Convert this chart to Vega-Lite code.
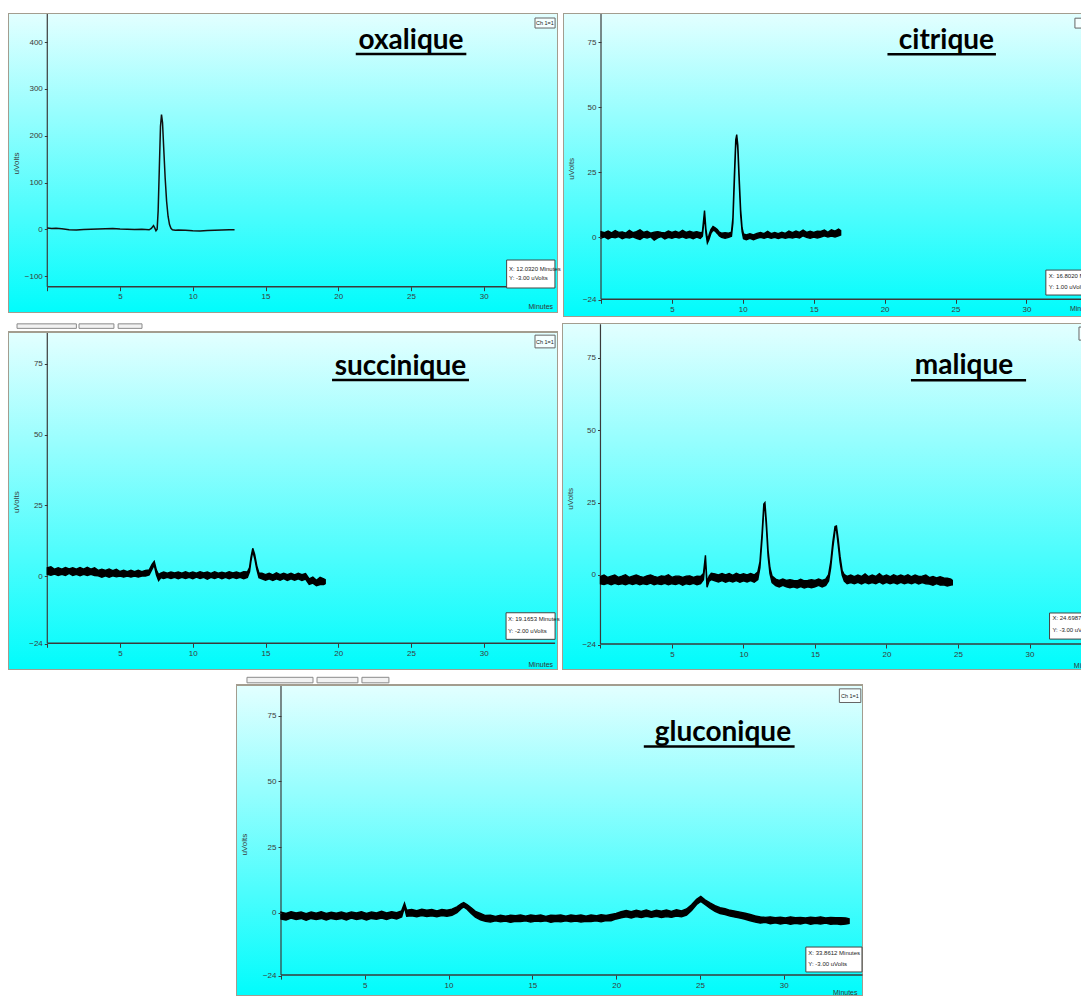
{
"$schema": "https://vega.github.io/schema/vega-lite/v6.json",
"background": "white",
"padding": {"left": 8, "top": 13, "right": 0, "bottom": 0},
"config": {
 "view": {"stroke": null},
 "axis": {"zindex": 1, "grid": false, "domain": false, "labelFont": "Liberation Sans Narrow, Arial Narrow, Liberation Sans, sans-serif", "labelFontSize": 8, "labelColor": "#3a3a3a", "tickColor": "#3a3a3a", "titleFont": "Liberation Sans Narrow, Liberation Sans, sans-serif", "titleFontSize": 8, "titleFontWeight": "normal", "titleColor": "#3a3a3a", "labelPadding": 2},
 "axisX": {"tickSize": 4},
 "axisY": {"tickSize": 3, "titleBaseline": "middle", "titleAngle": -90},
 "text": {"font": "Liberation Sans Narrow, Liberation Sans, sans-serif", "color": "#222"}
},
"datasets": {
 "oxalique": [
  {"t":0,"v":3},{"t":0.3,"v":2},{"t":0.6,"v":2.5},{"t":1,"v":1},{"t":1.5,"v":-1},{"t":2,"v":-1.5},{"t":2.5,"v":-0.5},{"t":3,"v":0},{"t":3.5,"v":0.5},{"t":4,"v":1},{"t":4.5,"v":1.5},{"t":5,"v":0.5},{"t":5.5,"v":0},{"t":6,"v":-0.5},{"t":6.5,"v":0},{"t":7,"v":-1},{"t":7.15,"v":2},{"t":7.3,"v":8},{"t":7.4,"v":2},{"t":7.47,"v":-3},{"t":7.55,"v":0},{"t":7.62,"v":40},{"t":7.7,"v":130},{"t":7.78,"v":220},{"t":7.85,"v":245},{"t":7.92,"v":228},{"t":8,"v":175},{"t":8.1,"v":110},{"t":8.2,"v":60},{"t":8.3,"v":28},{"t":8.4,"v":10},{"t":8.5,"v":2},{"t":8.6,"v":-1},{"t":8.8,"v":-2},{"t":9,"v":-1.5},{"t":9.5,"v":-2},{"t":10,"v":-3},{"t":10.5,"v":-3.5},{"t":11,"v":-2.5},{"t":11.5,"v":-2},{"t":12,"v":-1.5},{"t":12.5,"v":-1},{"t":12.87,"v":-1}
 ],
 "citrique": [
  {"t":0,"lo":-0.3,"hi":2.2},{"t":0.25,"lo":0.2,"hi":1.8},{"t":0.5,"lo":-0.6,"hi":2.4},{"t":0.75,"lo":0.1,"hi":1.7},{"t":1,"lo":-0.2,"hi":2.6},{"t":1.25,"lo":0.3,"hi":1.9},{"t":1.5,"lo":-0.5,"hi":2.1},{"t":1.75,"lo":0,"hi":1.6},{"t":2,"lo":-0.3,"hi":2.7},{"t":2.25,"lo":0.2,"hi":1.8},{"t":2.5,"lo":-0.4,"hi":2.2},{"t":2.75,"lo":-0.8,"hi":2.9},{"t":3,"lo":0.1,"hi":1.9},{"t":3.25,"lo":-0.3,"hi":2.3},{"t":3.5,"lo":0.2,"hi":1.6},{"t":3.75,"lo":-1.1,"hi":2},{"t":4,"lo":-0.2,"hi":2.2},{"t":4.25,"lo":0.3,"hi":1.9},{"t":4.5,"lo":-0.6,"hi":1.7},{"t":4.75,"lo":0,"hi":2.4},{"t":5,"lo":-0.4,"hi":1.9},{"t":5.25,"lo":0.1,"hi":2.3},{"t":5.5,"lo":-0.3,"hi":1.8},{"t":5.75,"lo":0.2,"hi":2.7},{"t":6,"lo":-0.4,"hi":1.9},{"t":6.25,"lo":0,"hi":2.3},{"t":6.5,"lo":-0.5,"hi":1.9},{"t":6.75,"lo":0.1,"hi":2.2},{"t":7,"lo":-0.4,"hi":1.8},{"t":7.15,"lo":0.4,"hi":2},{"t":7.3,"lo":8.5,"hi":10.3},{"t":7.4,"lo":1.5,"hi":3.2},{"t":7.5,"lo":-2.2,"hi":-0.6},{"t":7.6,"lo":-1,"hi":0.6},{"t":7.75,"lo":1.5,"hi":3},{"t":7.9,"lo":2.8,"hi":4.2},{"t":8.05,"lo":2.4,"hi":3.7},{"t":8.2,"lo":1.5,"hi":3},{"t":8.35,"lo":0.5,"hi":2},{"t":8.5,"lo":0,"hi":1.6},{"t":8.75,"lo":-0.4,"hi":1.8},{"t":9,"lo":0,"hi":1.6},{"t":9.2,"lo":0.4,"hi":2},{"t":9.3,"lo":5.5,"hi":7.5},{"t":9.4,"lo":20.5,"hi":23.5},{"t":9.5,"lo":35.5,"hi":37.5},{"t":9.57,"lo":38.5,"hi":39.5},{"t":9.65,"lo":33.5,"hi":35.5},{"t":9.75,"lo":20.5,"hi":22.5},{"t":9.85,"lo":8.5,"hi":10.5},{"t":9.95,"lo":2.2,"hi":3.6},{"t":10.05,"lo":-0.5,"hi":1.3},{"t":10.25,"lo":-0.9,"hi":0.9},{"t":10.5,"lo":-0.4,"hi":1.4},{"t":10.75,"lo":-0.9,"hi":0.9},{"t":11,"lo":-0.4,"hi":1.5},{"t":11.25,"lo":0,"hi":1.9},{"t":11.5,"lo":-0.4,"hi":1.4},{"t":11.75,"lo":0.1,"hi":2.3},{"t":12,"lo":-0.4,"hi":1.4},{"t":12.25,"lo":0,"hi":1.9},{"t":12.5,"lo":-0.5,"hi":1.4},{"t":12.75,"lo":0,"hi":2},{"t":13,"lo":-0.4,"hi":1.5},{"t":13.25,"lo":0,"hi":2.4},{"t":13.5,"lo":-0.3,"hi":1.8},{"t":13.75,"lo":0.1,"hi":2.4},{"t":14,"lo":-0.3,"hi":1.9},{"t":14.25,"lo":0.6,"hi":2.8},{"t":14.5,"lo":0,"hi":1.9},{"t":14.75,"lo":-0.4,"hi":2.3},{"t":15,"lo":0.1,"hi":1.9},{"t":15.25,"lo":-0.3,"hi":2.4},{"t":15.5,"lo":0.1,"hi":2.3},{"t":15.75,"lo":0.6,"hi":2.8},{"t":16,"lo":0.1,"hi":1.9},{"t":16.25,"lo":0.5,"hi":2.9},{"t":16.5,"lo":0.1,"hi":2.4},{"t":16.75,"lo":0.6,"hi":3.2},{"t":16.9,"lo":0.9,"hi":2.6}
 ],
 "succinique": [
  {"t":0,"lo":0.6,"hi":2.9},{"t":0.25,"lo":0.3,"hi":3.3},{"t":0.5,"lo":0.7,"hi":2.4},{"t":0.75,"lo":0.2,"hi":2.9},{"t":1,"lo":0.6,"hi":2.4},{"t":1.25,"lo":0.2,"hi":3},{"t":1.5,"lo":0.9,"hi":2.5},{"t":1.75,"lo":0.2,"hi":2.9},{"t":2,"lo":0.6,"hi":2.4},{"t":2.25,"lo":0.1,"hi":3},{"t":2.5,"lo":0.6,"hi":2.4},{"t":2.75,"lo":0.2,"hi":3.1},{"t":3,"lo":0.6,"hi":2.4},{"t":3.25,"lo":0.2,"hi":2.9},{"t":3.5,"lo":0.1,"hi":2},{"t":3.75,"lo":-0.4,"hi":2.4},{"t":4,"lo":0.1,"hi":2},{"t":4.25,"lo":-0.4,"hi":2.5},{"t":4.5,"lo":0.1,"hi":1.9},{"t":4.75,"lo":-0.3,"hi":2.4},{"t":5,"lo":0,"hi":1.6},{"t":5.25,"lo":-0.4,"hi":2},{"t":5.5,"lo":0,"hi":1.5},{"t":5.75,"lo":-0.4,"hi":2},{"t":6,"lo":0,"hi":1.5},{"t":6.25,"lo":-0.4,"hi":2},{"t":6.5,"lo":0,"hi":1.5},{"t":6.75,"lo":0,"hi":2},{"t":7,"lo":0.4,"hi":2.1},{"t":7.2,"lo":2.4,"hi":4.1},{"t":7.35,"lo":3.9,"hi":5.2},{"t":7.5,"lo":0.4,"hi":2.1},{"t":7.65,"lo":-1.6,"hi":0.5},{"t":7.8,"lo":-0.6,"hi":1},{"t":8,"lo":-0.9,"hi":1.4},{"t":8.25,"lo":-0.5,"hi":1},{"t":8.5,"lo":-0.9,"hi":1.4},{"t":8.75,"lo":-0.5,"hi":1.1},{"t":9,"lo":-1,"hi":1.4},{"t":9.25,"lo":-0.5,"hi":1},{"t":9.5,"lo":-0.9,"hi":1.5},{"t":9.75,"lo":-0.5,"hi":1},{"t":10,"lo":-1,"hi":1.4},{"t":10.25,"lo":-0.4,"hi":1},{"t":10.5,"lo":-0.9,"hi":1.5},{"t":10.75,"lo":-0.5,"hi":1.1},{"t":11,"lo":-1.1,"hi":1.4},{"t":11.25,"lo":-0.5,"hi":0.9},{"t":11.5,"lo":-0.9,"hi":1.5},{"t":11.75,"lo":-0.4,"hi":1},{"t":12,"lo":-1,"hi":1.3},{"t":12.25,"lo":-0.5,"hi":1},{"t":12.5,"lo":-1,"hi":1.5},{"t":12.75,"lo":-0.5,"hi":1.1},{"t":13,"lo":-0.9,"hi":1.4},{"t":13.25,"lo":-0.5,"hi":1},{"t":13.5,"lo":-1,"hi":1.5},{"t":13.75,"lo":-0.5,"hi":1.4},{"t":13.9,"lo":1.5,"hi":3},{"t":14,"lo":5.3,"hi":6.7},{"t":14.12,"lo":8.8,"hi":9.8},{"t":14.25,"lo":6.3,"hi":7.7},{"t":14.4,"lo":2.4,"hi":3.6},{"t":14.55,"lo":-0.6,"hi":1},{"t":14.75,"lo":-1,"hi":1},{"t":15,"lo":-1.5,"hi":0.5},{"t":15.25,"lo":-1,"hi":1},{"t":15.5,"lo":-1.6,"hi":0.4},{"t":15.75,"lo":-1,"hi":1.1},{"t":16,"lo":-1.5,"hi":0.5},{"t":16.25,"lo":-0.9,"hi":1},{"t":16.5,"lo":-1.6,"hi":0.5},{"t":16.75,"lo":-1,"hi":1},{"t":17,"lo":-1.5,"hi":0.4},{"t":17.25,"lo":-1,"hi":1},{"t":17.5,"lo":-1.6,"hi":0.5},{"t":17.75,"lo":-1.1,"hi":0.9},{"t":18,"lo":-3,"hi":-1},{"t":18.25,"lo":-2.5,"hi":-0.4},{"t":18.5,"lo":-3.4,"hi":-1.5},{"t":18.75,"lo":-3,"hi":-0.5},{"t":19,"lo":-3,"hi":-1},{"t":19.1,"lo":-2.7,"hi":-1.3}
 ],
 "malique": [
  {"t":0,"lo":-3,"hi":-0.5},{"t":0.25,"lo":-3.3,"hi":0},{"t":0.5,"lo":-2.9,"hi":-0.8},{"t":0.75,"lo":-3.4,"hi":-0.4},{"t":1,"lo":-2.9,"hi":0},{"t":1.25,"lo":-3.3,"hi":-0.8},{"t":1.5,"lo":-3,"hi":-0.4},{"t":1.75,"lo":-3.4,"hi":0.1},{"t":2,"lo":-2.9,"hi":-0.8},{"t":2.25,"lo":-3.3,"hi":-0.4},{"t":2.5,"lo":-2.9,"hi":0},{"t":2.75,"lo":-3.4,"hi":-0.5},{"t":3,"lo":-3,"hi":-0.8},{"t":3.25,"lo":-3.3,"hi":-0.3},{"t":3.5,"lo":-2.8,"hi":0},{"t":3.75,"lo":-3.4,"hi":-0.5},{"t":4,"lo":-3,"hi":-0.8},{"t":4.25,"lo":-3.3,"hi":-0.3},{"t":4.5,"lo":-2.9,"hi":-0.5},{"t":4.75,"lo":-3.4,"hi":0.1},{"t":5,"lo":-3,"hi":-0.8},{"t":5.25,"lo":-3.3,"hi":-0.4},{"t":5.5,"lo":-2.9,"hi":-0.4},{"t":5.75,"lo":-3.5,"hi":-0.8},{"t":6,"lo":-3,"hi":-0.4},{"t":6.25,"lo":-3.3,"hi":-0.3},{"t":6.5,"lo":-2.9,"hi":-0.8},{"t":6.75,"lo":-3.4,"hi":-0.4},{"t":7,"lo":-3,"hi":-0.5},{"t":7.2,"lo":-1.6,"hi":0.5},{"t":7.34,"lo":5.4,"hi":6.8},{"t":7.45,"lo":-4.2,"hi":-2.4},{"t":7.6,"lo":-2.1,"hi":-0.4},{"t":7.75,"lo":-1.6,"hi":0.6},{"t":8,"lo":-2,"hi":0.4},{"t":8.25,"lo":-2.4,"hi":0},{"t":8.5,"lo":-1.9,"hi":0.5},{"t":8.75,"lo":-2.5,"hi":0},{"t":9,"lo":-2,"hi":0.5},{"t":9.25,"lo":-2.4,"hi":-0.1},{"t":9.5,"lo":-1.9,"hi":0.6},{"t":9.75,"lo":-2.5,"hi":0},{"t":10,"lo":-2,"hi":0.4},{"t":10.25,"lo":-2.4,"hi":0},{"t":10.5,"lo":-1.9,"hi":0.5},{"t":10.75,"lo":-2.5,"hi":0},{"t":11,"lo":-1.6,"hi":1},{"t":11.15,"lo":2.5,"hi":4.5},{"t":11.3,"lo":12.5,"hi":14.5},{"t":11.42,"lo":22.5,"hi":24.5},{"t":11.5,"lo":23.5,"hi":25},{"t":11.6,"lo":16.5,"hi":18.5},{"t":11.72,"lo":6.5,"hi":8.5},{"t":11.85,"lo":0.5,"hi":2.5},{"t":12,"lo":-2.6,"hi":-0.4},{"t":12.25,"lo":-3.7,"hi":-1.4},{"t":12.5,"lo":-4.1,"hi":-1.9},{"t":12.75,"lo":-3.6,"hi":-1.4},{"t":13,"lo":-4.1,"hi":-1.9},{"t":13.25,"lo":-4.4,"hi":-1.6},{"t":13.5,"lo":-4.1,"hi":-1.9},{"t":13.75,"lo":-4.5,"hi":-2},{"t":14,"lo":-4,"hi":-1.5},{"t":14.25,"lo":-4.5,"hi":-2},{"t":14.5,"lo":-4.1,"hi":-1.9},{"t":14.75,"lo":-4.4,"hi":-1.6},{"t":15,"lo":-4.1,"hi":-1.9},{"t":15.25,"lo":-3.6,"hi":-1.4},{"t":15.5,"lo":-4.1,"hi":-1.9},{"t":15.75,"lo":-3.6,"hi":-1.4},{"t":15.95,"lo":-2.1,"hi":0.1},{"t":16.1,"lo":2.5,"hi":4.5},{"t":16.25,"lo":9.5,"hi":11.5},{"t":16.4,"lo":15.3,"hi":16.7},{"t":16.5,"lo":15.6,"hi":16.9},{"t":16.62,"lo":10.5,"hi":12.5},{"t":16.75,"lo":4.5,"hi":6.5},{"t":16.9,"lo":0,"hi":1.5},{"t":17.05,"lo":-2.1,"hi":0.1},{"t":17.25,"lo":-3,"hi":-0.5},{"t":17.5,"lo":-2.6,"hi":0},{"t":17.75,"lo":-3,"hi":-0.6},{"t":18,"lo":-2.5,"hi":0},{"t":18.25,"lo":-3.1,"hi":-0.5},{"t":18.5,"lo":-2.5,"hi":0.4},{"t":18.75,"lo":-3,"hi":-0.6},{"t":19,"lo":-2.6,"hi":0},{"t":19.25,"lo":-3,"hi":-0.5},{"t":19.5,"lo":-2.4,"hi":0.5},{"t":19.75,"lo":-3.1,"hi":-0.5},{"t":20,"lo":-2.5,"hi":0},{"t":20.25,"lo":-3,"hi":-0.6},{"t":20.5,"lo":-2.6,"hi":0.1},{"t":20.75,"lo":-3.1,"hi":-0.5},{"t":21,"lo":-2.5,"hi":0},{"t":21.25,"lo":-3,"hi":-0.5},{"t":21.5,"lo":-2.6,"hi":0.1},{"t":21.75,"lo":-3,"hi":-0.6},{"t":22,"lo":-2.5,"hi":0},{"t":22.25,"lo":-3.1,"hi":-0.5},{"t":22.5,"lo":-2.6,"hi":-0.4},{"t":22.75,"lo":-3,"hi":0},{"t":23,"lo":-3.1,"hi":-0.9},{"t":23.25,"lo":-3.5,"hi":-0.5},{"t":23.5,"lo":-3,"hi":-1},{"t":23.75,"lo":-3.5,"hi":-0.6},{"t":24,"lo":-3.4,"hi":-1},{"t":24.25,"lo":-3.8,"hi":-1.1},{"t":24.5,"lo":-3.5,"hi":-1.4},{"t":24.6,"lo":-3.4,"hi":-1.8}
 ],
 "gluconique": [
  {"t":0,"lo":-2.4,"hi":0.2},{"t":0.3,"lo":-2.8,"hi":-0.3},{"t":0.6,"lo":-2.1,"hi":0.4},{"t":0.9,"lo":-2.6,"hi":-0.1},{"t":1.2,"lo":-2.2,"hi":0.3},{"t":1.5,"lo":-2.9,"hi":-0.4},{"t":1.8,"lo":-2.2,"hi":0.3},{"t":2.1,"lo":-2.6,"hi":-0.2},{"t":2.4,"lo":-2.2,"hi":0.4},{"t":2.7,"lo":-2.8,"hi":-0.3},{"t":3,"lo":-2.2,"hi":0.2},{"t":3.3,"lo":-2.6,"hi":-0.2},{"t":3.6,"lo":-2.2,"hi":0.3},{"t":3.9,"lo":-2.8,"hi":-0.3},{"t":4.2,"lo":-2.1,"hi":0.3},{"t":4.5,"lo":-2.6,"hi":-0.1},{"t":4.8,"lo":-2.2,"hi":0.4},{"t":5.1,"lo":-2.8,"hi":-0.3},{"t":5.4,"lo":-2.2,"hi":0.3},{"t":5.7,"lo":-2.5,"hi":-0.1},{"t":6,"lo":-2.1,"hi":0.5},{"t":6.3,"lo":-2.6,"hi":-0.1},{"t":6.6,"lo":-2,"hi":0.4},{"t":6.9,"lo":-2.4,"hi":0},{"t":7.2,"lo":-1.6,"hi":0.7},{"t":7.37,"lo":2,"hi":3.6},{"t":7.5,"lo":-1.4,"hi":0.9},{"t":7.8,"lo":-1.2,"hi":1.2},{"t":8.1,"lo":-1.6,"hi":0.8},{"t":8.4,"lo":-1.1,"hi":1.3},{"t":8.7,"lo":-1.5,"hi":0.9},{"t":9,"lo":-1.2,"hi":1.2},{"t":9.3,"lo":-1.6,"hi":0.7},{"t":9.6,"lo":-1.1,"hi":1.2},{"t":9.9,"lo":-1.4,"hi":0.9},{"t":10.2,"lo":-1,"hi":1.3},{"t":10.5,"lo":0,"hi":2.2},{"t":10.75,"lo":1.5,"hi":3.4},{"t":10.9,"lo":2.2,"hi":3.9},{"t":11.1,"lo":1.3,"hi":3.1},{"t":11.35,"lo":-0.3,"hi":1.9},{"t":11.6,"lo":-1.7,"hi":0.5},{"t":11.9,"lo":-2.7,"hi":-0.3},{"t":12.2,"lo":-3.3,"hi":-1.1},{"t":12.5,"lo":-3.6,"hi":-1},{"t":12.8,"lo":-3.1,"hi":-1.4},{"t":13.1,"lo":-3.5,"hi":-1},{"t":13.4,"lo":-3.2,"hi":-1.3},{"t":13.7,"lo":-3.7,"hi":-1},{"t":14,"lo":-3.3,"hi":-1.2},{"t":14.3,"lo":-3.4,"hi":-0.9},{"t":14.6,"lo":-3.1,"hi":-1.3},{"t":14.9,"lo":-3.6,"hi":-0.9},{"t":15.2,"lo":-3.2,"hi":-1.2},{"t":15.5,"lo":-3.4,"hi":-0.9},{"t":15.8,"lo":-3.1,"hi":-1.4},{"t":16.1,"lo":-3.7,"hi":-1},{"t":16.4,"lo":-3.3,"hi":-1.1},{"t":16.7,"lo":-3.5,"hi":-0.9},{"t":17,"lo":-3.1,"hi":-1.3},{"t":17.3,"lo":-3.5,"hi":-0.9},{"t":17.6,"lo":-3.2,"hi":-1.2},{"t":17.9,"lo":-3.6,"hi":-0.9},{"t":18.2,"lo":-3.3,"hi":-1.3},{"t":18.5,"lo":-3.4,"hi":-0.9},{"t":18.8,"lo":-3.1,"hi":-1.2},{"t":19.1,"lo":-3.5,"hi":-0.8},{"t":19.4,"lo":-3,"hi":-1.1},{"t":19.7,"lo":-3.1,"hi":-0.7},{"t":20,"lo":-2.4,"hi":-0.3},{"t":20.3,"lo":-2,"hi":0.4},{"t":20.6,"lo":-1.6,"hi":0.8},{"t":20.9,"lo":-2,"hi":0.4},{"t":21.2,"lo":-1.5,"hi":0.9},{"t":21.5,"lo":-1.9,"hi":0.5},{"t":21.8,"lo":-1.4,"hi":1},{"t":22.1,"lo":-1.8,"hi":0.4},{"t":22.4,"lo":-1.4,"hi":0.9},{"t":22.7,"lo":-1.9,"hi":0.6},{"t":23,"lo":-1.5,"hi":1},{"t":23.3,"lo":-1.8,"hi":0.5},{"t":23.6,"lo":-1.3,"hi":1.1},{"t":23.9,"lo":-1.6,"hi":0.7},{"t":24.2,"lo":-0.9,"hi":1.4},{"t":24.5,"lo":0.8,"hi":3},{"t":24.8,"lo":3.1,"hi":5.1},{"t":25.05,"lo":4.3,"hi":6.2},{"t":25.3,"lo":3.1,"hi":4.9},{"t":25.6,"lo":1.7,"hi":3.7},{"t":25.9,"lo":0.5,"hi":2.7},{"t":26.2,"lo":-0.3,"hi":1.9},{"t":26.5,"lo":-0.7,"hi":1.5},{"t":26.8,"lo":-1.3,"hi":0.9},{"t":27.1,"lo":-1.7,"hi":0.6},{"t":27.4,"lo":-2.1,"hi":0.2},{"t":27.7,"lo":-2.5,"hi":-0.2},{"t":28,"lo":-3.1,"hi":-0.7},{"t":28.3,"lo":-3.6,"hi":-1.2},{"t":28.6,"lo":-4,"hi":-1.6},{"t":28.9,"lo":-3.7,"hi":-1.8},{"t":29.2,"lo":-4.2,"hi":-1.6},{"t":29.5,"lo":-3.9,"hi":-1.9},{"t":29.8,"lo":-4.3,"hi":-1.7},{"t":30.1,"lo":-4,"hi":-2},{"t":30.4,"lo":-4.4,"hi":-1.6},{"t":30.7,"lo":-4.1,"hi":-1.9},{"t":31,"lo":-4.3,"hi":-1.8},{"t":31.3,"lo":-3.9,"hi":-2},{"t":31.6,"lo":-4.4,"hi":-1.7},{"t":31.9,"lo":-4.1,"hi":-1.9},{"t":32.2,"lo":-4.3,"hi":-1.6},{"t":32.5,"lo":-4,"hi":-2},{"t":32.8,"lo":-4.4,"hi":-1.8},{"t":33.1,"lo":-4.2,"hi":-1.9},{"t":33.4,"lo":-4.5,"hi":-1.9},{"t":33.7,"lo":-4.3,"hi":-2},{"t":33.9,"lo":-4.1,"hi":-2.3}
 ]
},
"spacing": 6,
"vconcat": [
 {"hconcat": [
  {"width": 550, "height": 300, "layer": [
   {"data": {"values": [{}]}, "mark": {"type": "rect", "clip": true, "stroke": "#a39d8f", "strokeWidth": 2, "fill": {"gradient": "linear", "x1": 0, "y1": 0, "x2": 0, "y2": 1, "stops": [{"offset": 0, "color": "#e3ffff"}, {"offset": 1, "color": "#00fcfc"}]}},
    "encoding": {"x": {"datum": -2.7}, "x2": {"datum": 35.1}, "y": {"datum": -178.8}, "y2": {"datum": 462.2}}},
   {"data": {"values": [{}]}, "mark": {"type": "rule", "color": "#3a3a3a", "strokeWidth": 1.2}, "encoding": {"x": {"datum": 0}, "y": {"datum": -122.6}, "y2": {"datum": 460}}},
   {"data": {"values": [{}]}, "mark": {"type": "rule", "color": "#3a3a3a", "strokeWidth": 1.4}, "encoding": {"x": {"datum": 0}, "x2": {"datum": 34.9}, "y": {"datum": -122.6}}},
   {"data": {"name": "oxalique"}, "mark": {"type": "line", "color": "#111", "strokeWidth": 1.5},
    "encoding": {
     "x": {"field": "t", "type": "quantitative", "scale": {"domain": [-2.7, 35.1], "nice": false, "zero": false}, "axis": {"title": null, "offset": -26.3, "zindex": 2, "values": [0, 5, 10, 15, 20, 25, 30], "labelExpr": "datum.value == 0 ? '' : datum.label"}},
     "y": {"field": "v", "type": "quantitative", "scale": {"domain": [-178.8, 462.2], "nice": false, "zero": false}, "axis": {"title": "uVolts", "offset": -39.3, "titleX": -31.3, "titleY": 150, "values": [-100, 0, 100, 200, 300, 400], "zindex": 2}}}},
   {"data": {"values": [{}]}, "mark": {"type": "text", "text": "oxalique", "font": "Lato", "fontWeight": "bold", "fontSize": 28, "color": "#000", "align": "center", "baseline": "alphabetic"}, "encoding": {"x": {"datum": 25.0}, "y": {"datum": 384.6}}},
   {"data": {"values": [{}]}, "mark": {"type": "rule", "color": "#000", "strokeWidth": 2.5}, "encoding": {"x": {"datum": 21.2}, "x2": {"datum": 28.8}, "y": {"datum": 374.6}}},
   {"data": {"values": [{}]}, "mark": {"type": "rect", "fill": "#ffffff", "stroke": "#444", "strokeWidth": 1}, "encoding": {"x": {"datum": 31.57}, "x2": {"datum": 34.89}, "y": {"datum": -125.4}, "y2": {"datum": -65.6}}},
   {"data": {"values": [{}]}, "mark": {"type": "text", "text": ["X: 12.0320 Minutes", "Y: -3.00 uVolts"], "fontSize": 6, "lineHeight": 9, "align": "left", "baseline": "top"}, "encoding": {"x": {"datum": 31.73}, "y": {"datum": -78.4}}},
   {"data": {"values": [{}]}, "mark": {"type": "rect", "fill": "#f4ffff", "stroke": "#666", "strokeWidth": 1}, "encoding": {"x": {"datum": 33.52}, "x2": {"datum": 34.9}, "y": {"datum": 430.1}, "y2": {"datum": 451.5}}},
   {"data": {"values": [{}]}, "mark": {"type": "text", "text": "Ch 1=1", "fontSize": 5.5, "align": "center", "baseline": "middle"}, "encoding": {"x": {"datum": 34.2}, "y": {"datum": 440.8}}},
   {"data": {"values": [{}]}, "mark": {"type": "text", "text": "Minutes", "fontSize": 7, "align": "right", "baseline": "middle", "color": "#333"}, "encoding": {"x": {"datum": 34.76}, "y": {"datum": -165.4}}}
  ]},
  {"width": 521, "height": 304, "layer": [
   {"data": {"values": [{}]}, "mark": {"type": "rect", "clip": true, "stroke": "#a39d8f", "strokeWidth": 2, "fill": {"gradient": "linear", "x1": 0, "y1": 0, "x2": 0, "y2": 1, "stops": [{"offset": 0, "color": "#e3ffff"}, {"offset": 1, "color": "#00fcfc"}]}},
    "encoding": {"x": {"datum": -2.68}, "x2": {"datum": 34.06}, "y": {"datum": -30.65}, "y2": {"datum": 86.3}}},
   {"data": {"values": [{}]}, "mark": {"type": "rule", "color": "#3a3a3a", "strokeWidth": 1.2}, "encoding": {"x": {"datum": 0}, "y": {"datum": -23.8}, "y2": {"datum": 85.9}}},
   {"data": {"values": [{}]}, "mark": {"type": "rule", "color": "#3a3a3a", "strokeWidth": 1.4}, "encoding": {"x": {"datum": 0}, "x2": {"datum": 34.06}, "y": {"datum": -23.8}}},
   {"data": {"name": "citrique"}, "mark": {"type": "area", "color": "#000", "stroke": "#000", "strokeWidth": 1.4},
    "encoding": {
     "x": {"field": "t", "type": "quantitative", "scale": {"domain": [-2.68, 34.06], "nice": false, "zero": false}, "axis": {"title": null, "offset": -17.7, "zindex": 2, "values": [0, 5, 10, 15, 20, 25, 30], "labelExpr": "datum.value == 0 ? '' : datum.label"}},
     "y": {"field": "lo", "type": "quantitative", "scale": {"domain": [-30.65, 86.3], "nice": false, "zero": false}, "axis": {"title": "uVolts", "offset": -38, "titleX": -29.7, "titleY": 155.3, "values": [-24, 0, 25, 50, 75], "zindex": 2}},
     "y2": {"field": "hi"}}},
   {"data": {"values": [{}]}, "mark": {"type": "text", "text": "citrique", "font": "Lato", "fontWeight": "bold", "fontSize": 28, "color": "#000", "align": "center", "baseline": "alphabetic"}, "encoding": {"x": {"datum": 24.36}, "y": {"datum": 72.3}}},
   {"data": {"values": [{}]}, "mark": {"type": "rule", "color": "#000", "strokeWidth": 2.5}, "encoding": {"x": {"datum": 20.2}, "x2": {"datum": 27.85}, "y": {"datum": 70.4}}},
   {"data": {"values": [{}]}, "mark": {"type": "rect", "fill": "#ffffff", "stroke": "#444", "strokeWidth": 1, "clip": true}, "encoding": {"x": {"datum": 31.37}, "x2": {"datum": 34.5}, "y": {"datum": -22.2}, "y2": {"datum": -12.6}}},
   {"data": {"values": [{}]}, "mark": {"type": "text", "text": ["X: 16.8020 Minutes", "Y: 1.00 uVolts"], "fontSize": 6, "lineHeight": 11, "align": "left", "baseline": "top", "clip": true}, "encoding": {"x": {"datum": 31.58}, "y": {"datum": -13.7}}},
   {"data": {"values": [{}]}, "mark": {"type": "rect", "fill": "#f4ffff", "stroke": "#666", "strokeWidth": 1, "clip": true}, "encoding": {"x": {"datum": 33.42}, "x2": {"datum": 34.5}, "y": {"datum": 80.5}, "y2": {"datum": 84.3}}},
   {"data": {"values": [{}]}, "mark": {"type": "text", "text": "Minutes", "fontSize": 7, "align": "left", "baseline": "middle", "color": "#333", "clip": true}, "encoding": {"x": {"datum": 33.07}, "y": {"datum": -27.4}}}
  ]}
 ], "spacing": 2},
 {"hconcat": [
  {"width": 550, "height": 347, "layer": [
   {"data": {"values": [{}]}, "mark": {"type": "rect", "clip": true, "stroke": "#a39d8f", "strokeWidth": 2, "fill": {"gradient": "linear", "x1": 0, "y1": 0, "x2": 0, "y2": 1, "stops": [{"offset": 0, "color": "#e3ffff"}, {"offset": 1, "color": "#00fcfc"}]}},
    "encoding": {"x": {"datum": -2.7}, "x2": {"datum": 35.1}, "y": {"datum": -33.25}, "y2": {"datum": 86.3}}},
   {"data": {"values": [{}]}, "mark": {"type": "rect", "fill": "#f2f2f2", "stroke": "#8a8a8a", "strokeWidth": 1, "clip": true}, "encoding": {"x": {"datum": -2.08}, "x2": {"datum": 2.0}, "y": {"datum": 87.6}, "y2": {"datum": 89.2}}},
   {"data": {"values": [{}]}, "mark": {"type": "rect", "fill": "#f2f2f2", "stroke": "#8a8a8a", "strokeWidth": 1, "clip": true}, "encoding": {"x": {"datum": 2.18}, "x2": {"datum": 4.58}, "y": {"datum": 87.6}, "y2": {"datum": 89.2}}},
   {"data": {"values": [{}]}, "mark": {"type": "rect", "fill": "#f2f2f2", "stroke": "#8a8a8a", "strokeWidth": 1, "clip": true}, "encoding": {"x": {"datum": 4.87}, "x2": {"datum": 6.51}, "y": {"datum": 87.6}, "y2": {"datum": 89.2}}},
   {"data": {"values": [{}]}, "mark": {"type": "rule", "color": "#3a3a3a", "strokeWidth": 1.2}, "encoding": {"x": {"datum": 0}, "y": {"datum": -23.8}, "y2": {"datum": 86}}},
   {"data": {"values": [{}]}, "mark": {"type": "rule", "color": "#3a3a3a", "strokeWidth": 1.4}, "encoding": {"x": {"datum": 0}, "x2": {"datum": 34.9}, "y": {"datum": -23.8}}},
   {"data": {"name": "succinique"}, "mark": {"type": "area", "color": "#000", "stroke": "#000", "strokeWidth": 1.4},
    "encoding": {
     "x": {"field": "t", "type": "quantitative", "scale": {"domain": [-2.7, 35.1], "nice": false, "zero": false}, "axis": {"title": null, "offset": -26.7, "zindex": 2, "values": [0, 5, 10, 15, 20, 25, 30], "labelExpr": "datum.value == 0 ? '' : datum.label"}},
     "y": {"field": "lo", "type": "quantitative", "scale": {"domain": [-33.25, 89.5], "nice": false, "zero": false}, "axis": {"title": "uVolts", "offset": -39.3, "titleX": -31.3, "titleY": 178.7, "values": [-24, 0, 25, 50, 75], "zindex": 2}},
     "y2": {"field": "hi"}}},
   {"data": {"values": [{}]}, "mark": {"type": "text", "text": "succinique", "font": "Lato", "fontWeight": "bold", "fontSize": 28, "color": "#000", "align": "center", "baseline": "alphabetic"}, "encoding": {"x": {"datum": 24.27}, "y": {"datum": 71.1}}},
   {"data": {"values": [{}]}, "mark": {"type": "rule", "color": "#000", "strokeWidth": 2.5}, "encoding": {"x": {"datum": 19.57}, "x2": {"datum": 28.98}, "y": {"datum": 69.3}}},
   {"data": {"values": [{}]}, "mark": {"type": "rect", "fill": "#ffffff", "stroke": "#444", "strokeWidth": 1}, "encoding": {"x": {"datum": 31.53}, "x2": {"datum": 34.9}, "y": {"datum": -22.4}, "y2": {"datum": -13.0}}},
   {"data": {"values": [{}]}, "mark": {"type": "text", "text": ["X: 19.1653 Minutes", "Y: -2.00 uVolts"], "fontSize": 6, "lineHeight": 11.5, "align": "left", "baseline": "top"}, "encoding": {"x": {"datum": 31.66}, "y": {"datum": -14.15}}},
   {"data": {"values": [{}]}, "mark": {"type": "rect", "fill": "#f4ffff", "stroke": "#666", "strokeWidth": 1}, "encoding": {"x": {"datum": 33.52}, "x2": {"datum": 34.9}, "y": {"datum": 80.7}, "y2": {"datum": 85.2}}},
   {"data": {"values": [{}]}, "mark": {"type": "text", "text": "Ch 1=1", "fontSize": 5.5, "align": "center", "baseline": "middle"}, "encoding": {"x": {"datum": 34.2}, "y": {"datum": 82.9}}},
   {"data": {"values": [{}]}, "mark": {"type": "text", "text": "Minutes", "fontSize": 7, "align": "right", "baseline": "middle", "color": "#333"}, "encoding": {"x": {"datum": 34.76}, "y": {"datum": -31.5}}}
  ]},
  {"width": 521, "height": 347, "layer": [
   {"data": {"values": [{}]}, "mark": {"type": "rect", "clip": true, "stroke": "#a39d8f", "strokeWidth": 2, "fill": {"gradient": "linear", "x1": 0, "y1": 0, "x2": 0, "y2": 1, "stops": [{"offset": 0, "color": "#e3ffff"}, {"offset": 1, "color": "#00fcfc"}]}},
    "encoding": {"x": {"datum": -2.69}, "x2": {"datum": 33.74}, "y": {"datum": -32.76}, "y2": {"datum": 86.9}}},
   {"data": {"values": [{}]}, "mark": {"type": "rule", "color": "#3a3a3a", "strokeWidth": 1.2}, "encoding": {"x": {"datum": 0}, "y": {"datum": -23.8}, "y2": {"datum": 86.5}}},
   {"data": {"values": [{}]}, "mark": {"type": "rule", "color": "#3a3a3a", "strokeWidth": 1.4}, "encoding": {"x": {"datum": 0}, "x2": {"datum": 33.74}, "y": {"datum": -23.8}}},
   {"data": {"name": "malique"}, "mark": {"type": "area", "color": "#000", "stroke": "#000", "strokeWidth": 1.4},
    "encoding": {
     "x": {"field": "t", "type": "quantitative", "scale": {"domain": [-2.69, 33.74], "nice": false, "zero": false}, "axis": {"title": null, "offset": -26, "zindex": 2, "values": [0, 5, 10, 15, 20, 25, 30], "labelExpr": "datum.value == 0 ? '' : datum.label"}},
     "y": {"field": "lo", "type": "quantitative", "scale": {"domain": [-32.76, 86.9], "nice": false, "zero": false}, "axis": {"title": "uVolts", "offset": -38.5, "titleX": -30.1, "titleY": 175.3, "values": [-24, 0, 25, 50, 75], "zindex": 2}},
     "y2": {"field": "hi"}}},
   {"data": {"values": [{}]}, "mark": {"type": "text", "text": "malique", "font": "Lato", "fontWeight": "bold", "fontSize": 28, "color": "#000", "align": "center", "baseline": "alphabetic"}, "encoding": {"x": {"datum": 25.42}, "y": {"datum": 69.2}}},
   {"data": {"values": [{}]}, "mark": {"type": "rule", "color": "#000", "strokeWidth": 2.5}, "encoding": {"x": {"datum": 21.71}, "x2": {"datum": 29.76}, "y": {"datum": 67.2}}},
   {"data": {"values": [{}]}, "mark": {"type": "rect", "fill": "#ffffff", "stroke": "#444", "strokeWidth": 1, "clip": true}, "encoding": {"x": {"datum": 31.4}, "x2": {"datum": 34.2}, "y": {"datum": -22.1}, "y2": {"datum": -13.1}}},
   {"data": {"values": [{}]}, "mark": {"type": "text", "text": ["X: 24.6987 Minutes", "Y: -3.00 uVolts"], "fontSize": 6, "lineHeight": 12, "align": "left", "baseline": "top", "clip": true}, "encoding": {"x": {"datum": 31.6}, "y": {"datum": -13.8}}},
   {"data": {"values": [{}]}, "mark": {"type": "rect", "fill": "#f4ffff", "stroke": "#666", "strokeWidth": 1, "clip": true}, "encoding": {"x": {"datum": 33.46}, "x2": {"datum": 34.2}, "y": {"datum": 81}, "y2": {"datum": 85.5}}},
   {"data": {"values": [{}]}, "mark": {"type": "text", "text": "Minutes", "fontSize": 7, "align": "left", "baseline": "middle", "color": "#333", "clip": true}, "encoding": {"x": {"datum": 33.1}, "y": {"datum": -31.4}}}
  ]}
 ], "spacing": 2},
 {"hconcat": [
  {"width": 228, "height": 320, "data": {"values": [{}]}, "mark": {"type": "point", "opacity": 0}},
  {"width": 627, "height": 320, "layer": [
   {"data": {"values": [{}]}, "mark": {"type": "rect", "clip": true, "stroke": "#a39d8f", "strokeWidth": 2, "fill": {"gradient": "linear", "x1": 0, "y1": 0, "x2": 0, "y2": 1, "stops": [{"offset": 0, "color": "#e3ffff"}, {"offset": 1, "color": "#00fcfc"}]}},
    "encoding": {"x": {"datum": -2.685}, "x2": {"datum": 34.73}, "y": {"datum": -31.76}, "y2": {"datum": 86.8}}},
   {"data": {"values": [{}]}, "mark": {"type": "rect", "fill": "#f2f2f2", "stroke": "#8a8a8a", "strokeWidth": 1, "clip": true}, "encoding": {"x": {"datum": -2.03}, "x2": {"datum": 1.91}, "y": {"datum": 87.6}, "y2": {"datum": 89.7}}},
   {"data": {"values": [{}]}, "mark": {"type": "rect", "fill": "#f2f2f2", "stroke": "#8a8a8a", "strokeWidth": 1, "clip": true}, "encoding": {"x": {"datum": 2.15}, "x2": {"datum": 4.59}, "y": {"datum": 87.6}, "y2": {"datum": 89.7}}},
   {"data": {"values": [{}]}, "mark": {"type": "rect", "fill": "#f2f2f2", "stroke": "#8a8a8a", "strokeWidth": 1, "clip": true}, "encoding": {"x": {"datum": 4.83}, "x2": {"datum": 6.44}, "y": {"datum": 87.6}, "y2": {"datum": 89.7}}},
   {"data": {"values": [{}]}, "mark": {"type": "rule", "color": "#3a3a3a", "strokeWidth": 1.2}, "encoding": {"x": {"datum": 0}, "y": {"datum": -23.75}, "y2": {"datum": 86.4}}},
   {"data": {"values": [{}]}, "mark": {"type": "rule", "color": "#3a3a3a", "strokeWidth": 1.4}, "encoding": {"x": {"datum": 0}, "x2": {"datum": 34.7}, "y": {"datum": -23.75}}},
   {"data": {"name": "gluconique"}, "mark": {"type": "area", "color": "#000", "stroke": "#000", "strokeWidth": 1.4},
    "encoding": {
     "x": {"field": "t", "type": "quantitative", "scale": {"domain": [-2.685, 34.73], "nice": false, "zero": false}, "axis": {"title": null, "offset": -20.9, "zindex": 2, "values": [0, 5, 10, 15, 20, 25, 30], "labelExpr": "datum.value == 0 ? '' : datum.label"}},
     "y": {"field": "lo", "type": "quantitative", "scale": {"domain": [-31.76, 90.2], "nice": false, "zero": false}, "axis": {"title": "uVolts", "offset": -45, "titleX": -36.5, "titleY": 168.2, "values": [-24, 0, 25, 50, 75], "zindex": 2}},
     "y2": {"field": "hi"}}},
   {"data": {"values": [{}]}, "mark": {"type": "text", "text": "gluconique", "font": "Lato", "fontWeight": "bold", "fontSize": 28, "color": "#000", "align": "center", "baseline": "alphabetic"}, "encoding": {"x": {"datum": 26.37}, "y": {"datum": 65.6}}},
   {"data": {"values": [{}]}, "mark": {"type": "rule", "color": "#000", "strokeWidth": 2.5}, "encoding": {"x": {"datum": 21.65}, "x2": {"datum": 30.65}, "y": {"datum": 63.3}}},
   {"data": {"values": [{}]}, "mark": {"type": "rect", "fill": "#ffffff", "stroke": "#444", "strokeWidth": 1}, "encoding": {"x": {"datum": 31.32}, "x2": {"datum": 34.67}, "y": {"datum": -22.6}, "y2": {"datum": -13.1}}},
   {"data": {"values": [{}]}, "mark": {"type": "text", "text": ["X: 33.8612 Minutes", "Y: -3.00 uVolts"], "fontSize": 6, "lineHeight": 11, "align": "left", "baseline": "top"}, "encoding": {"x": {"datum": 31.47}, "y": {"datum": -14.2}}},
   {"data": {"values": [{}]}, "mark": {"type": "rect", "fill": "#f4ffff", "stroke": "#666", "strokeWidth": 1}, "encoding": {"x": {"datum": 33.32}, "x2": {"datum": 34.6}, "y": {"datum": 80.1}, "y2": {"datum": 85.3}}},
   {"data": {"values": [{}]}, "mark": {"type": "text", "text": "Ch 1=1", "fontSize": 5.5, "align": "center", "baseline": "middle"}, "encoding": {"x": {"datum": 33.95}, "y": {"datum": 82.7}}},
   {"data": {"values": [{}]}, "mark": {"type": "text", "text": "Minutes", "fontSize": 7, "align": "left", "baseline": "middle", "color": "#333", "clip": true}, "encoding": {"x": {"datum": 32.94}, "y": {"datum": -30.6}}}
  ]}
 ], "spacing": 0}
]
}
